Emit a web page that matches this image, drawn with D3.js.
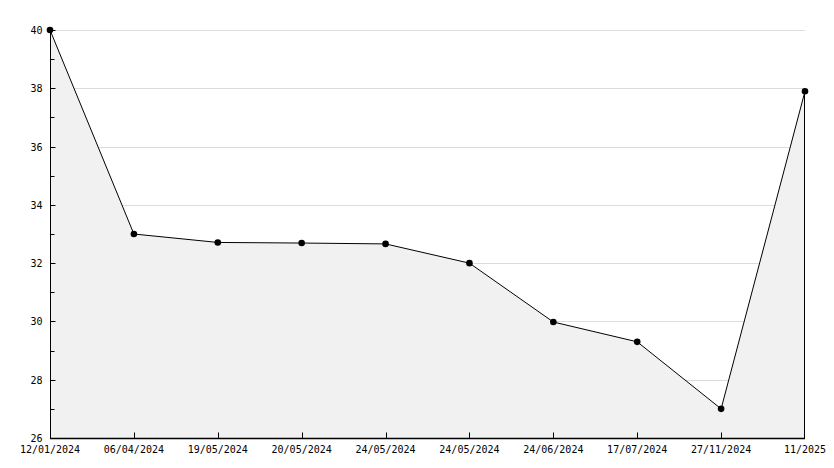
<!DOCTYPE html>
<html>
<head>
<meta charset="utf-8">
<script src="https://cdn.jsdelivr.net/npm/d3@7"></script>
<style>
  body { margin: 0; background: #fff; }
  text { font-family: "DejaVu Sans Mono", monospace; font-size: 10px; fill: #000; }
</style>
</head>
<body>
<script>
// chart data
const dates = ["12/01/2024", "06/04/2024", "19/05/2024", "20/05/2024", "24/05/2024",
               "24/05/2024", "24/06/2024", "17/07/2024", "27/11/2024", "11/2025"];
const values = [40, 33.0, 32.71, 32.69, 32.66, 32.0, 29.98, 29.3, 27.0, 37.9];
const yTicks = [26, 28, 30, 32, 34, 36, 38, 40];

const width = 834, height = 468;
const margin = {left: 50, right: 29, top: 30, bottom: 30};

const svg = d3.select("body").append("svg")
  .attr("width", width)
  .attr("height", height);

const x = d3.scalePoint()
  .domain(d3.range(dates.length))
  .range([margin.left, width - margin.right]);

const y = d3.scaleLinear()
  .domain([26, 40])
  .range([height - margin.bottom, margin.top]);

const data = values.map((v, i) => ({i: i, v: v}));

// grid
svg.append("g")
  .selectAll("line")
  .data(yTicks.filter(d => d > 26))
  .join("line")
  .attr("x1", margin.left)
  .attr("x2", width - margin.right)
  .attr("y1", d => Math.round(y(d)) + 0.5)
  .attr("y2", d => Math.round(y(d)) + 0.5)
  .attr("stroke", "#dcdcdc");

// filled area under line
const area = d3.area()
  .x(d => x(d.i))
  .y0(y(26))
  .y1(d => y(d.v));

svg.append("path")
  .datum(data)
  .attr("d", area)
  .attr("fill", "#f1f1f1");

const last = data[data.length - 1];
svg.append("line")
  .attr("x1", x(last.i) - 0.5).attr("x2", x(last.i) - 0.5)
  .attr("y1", y(last.v)).attr("y2", y(26))
  .attr("stroke", "#000");

// line
const line = d3.line()
  .x(d => x(d.i))
  .y(d => y(d.v));

svg.append("path")
  .datum(data)
  .attr("d", line)
  .attr("fill", "none")
  .attr("stroke", "#000")
  .attr("stroke-width", 1);

svg.append("g")
  .selectAll("circle")
  .data(data)
  .join("circle")
  .attr("cx", d => x(d.i))
  .attr("cy", d => y(d.v))
  .attr("r", 3.3)
  .attr("fill", "#000");

// y axis
const yAxis = svg.append("g").attr("transform", `translate(${margin.left + 0.5},0)`);
yAxis.append("line")
  .attr("y1", margin.top).attr("y2", height - margin.bottom)
  .attr("stroke", "#000");
yAxis.selectAll(".minor")
  .data(d3.range(27, 40, 2))
  .join("line")
  .attr("y1", d => Math.round(y(d)) + 0.5)
  .attr("y2", d => Math.round(y(d)) + 0.5)
  .attr("x2", 4)
  .attr("stroke", "#000");
yAxis.selectAll(".major")
  .data(yTicks)
  .join("line")
  .attr("y1", d => Math.round(y(d)) + 0.5)
  .attr("y2", d => Math.round(y(d)) + 0.5)
  .attr("x2", 5)
  .attr("stroke", "#000");
yAxis.selectAll("text")
  .data(yTicks)
  .join("text")
  .attr("x", -8)
  .attr("y", d => y(d) + 4)
  .attr("text-anchor", "end")
  .text(d => d);

// x axis
const xAxis = svg.append("g").attr("transform", `translate(0,${height - margin.bottom + 0.5})`);
xAxis.append("line")
  .attr("x1", margin.left).attr("x2", width - margin.right)
  .attr("stroke", "#000")
  .attr("stroke-width", 1.5);
xAxis.selectAll(".tick")
  .data(d3.range(1, dates.length - 1))
  .join("line")
  .attr("x1", d => Math.round(x(d)) + 0.5)
  .attr("x2", d => Math.round(x(d)) + 0.5)
  .attr("y2", -6)
  .attr("stroke", "#000");
xAxis.selectAll("text")
  .data(dates)
  .join("text")
  .attr("x", (d, i) => x(i))
  .attr("y", 14)
  .attr("text-anchor", "middle")
  .text(d => d);
</script>
</body>
</html>
